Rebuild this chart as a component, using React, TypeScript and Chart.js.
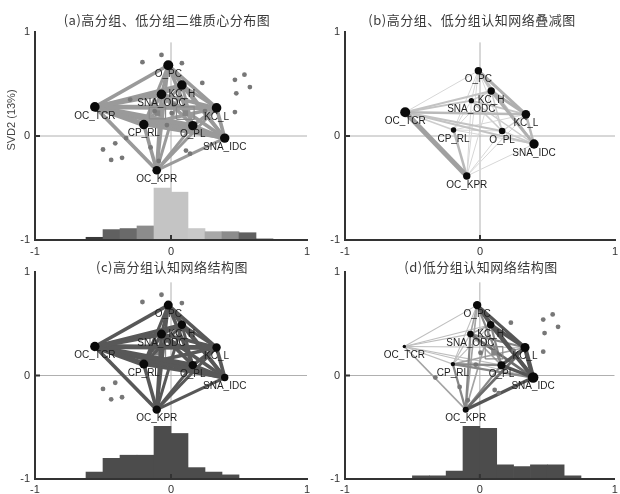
import React, { useEffect, useRef } from 'react';
import { Chart, registerables } from 'chart.js';

Chart.register(...registerables);
Chart.defaults.font.family = '"Liberation Sans", Arial, sans-serif';

// ---- ENA codes (network nodes) ----
const nodeNames = ['O_PC', 'KC_H', 'SNA_ODC', 'OC_TCR', 'KC_L', 'CP_RL', 'O_PL', 'SNA_IDC', 'OC_KPR'];
const nodeX = [-0.02, 0.08, -0.07, -0.56, 0.335, -0.2, 0.16, 0.395, -0.105];
const nodeY = [0.68, 0.49, 0.4, 0.28, 0.27, 0.11, 0.1, -0.02, -0.33];
const nodeXSub = [-0.012, 0.083, -0.064, -0.554, 0.34, -0.196, 0.164, 0.4, -0.098];
const nodeYSub = [0.628, 0.433, 0.34, 0.228, 0.208, 0.058, 0.048, -0.077, -0.385];

// node sizes per network
const nodeSizeAll = [5, 4.8, 4.8, 4.8, 4.8, 4.7, 4.7, 4.7, 4.3];
const nodeSizeSub = [3.7, 3.7, 2.7, 5, 4.3, 2.7, 3.3, 4.7, 3.7];
const nodeSizeHigh = [4.5, 4.2, 4.5, 4.7, 4.2, 4.5, 4.2, 3.7, 4.2];
const nodeSizeLow = [4.2, 3.7, 3.3, 1.7, 4.5, 2.2, 4, 5.3, 3];

// ---- co-occurrence edges (index pairs into nodeNames) ----
const edgeFrom = [0, 0, 0, 0, 0, 0, 0, 0, 1, 1, 1, 1, 1, 1, 1, 2, 2, 2, 2, 2, 2, 3, 3, 3, 3, 3, 4, 4, 4, 4, 5, 5, 5, 6, 6, 7];
const edgeTo = [1, 2, 3, 4, 5, 6, 7, 8, 2, 3, 4, 5, 6, 7, 8, 3, 4, 5, 6, 7, 8, 4, 5, 6, 7, 8, 5, 6, 7, 8, 6, 7, 8, 7, 8, 8];
const highWeights = [3, 2.5, 3, 3, 2.5, 3, 3, 2.5, 2.5, 3, 2.5, 2.5, 2.5, 3, 2.5, 4, 3, 3, 3, 3, 3, 4, 4.5, 4, 4, 3, 3, 3, 3, 2.5, 3.5, 3, 3, 3, 2.5, 2.5];
const lowWeights = [3, 1.5, 1, 3, 1, 2, 3, 1.5, 1.5, 1, 3.5, 1, 2, 3.5, 1.5, 1, 2, 1, 1.5, 2.5, 2, 1, 1, 1, 1, 1.5, 1.5, 3, 4, 2.5, 2, 2, 2, 3, 2, 3];
const subWeights = [2, 1, 1, 3, 1, 1, 2, 1, 1.5, 2, 3, 1, 1.5, 3, 1, 2, 2, 1, 1.5, 1.5, 1, 2.5, 1.5, 2, 2, 5, 1, 1.5, 2.5, 1, 1, 1, 2.5, 1.5, 1, 1];

// ---- individual units (projected points) ----
const highDotsX = [-0.21, -0.07, 0.08, -0.5, -0.41, -0.44, -0.36, -0.3, -0.12, 0.02];
const highDotsY = [0.71, 0.78, 0.7, -0.13, -0.07, -0.23, -0.21, 0.35, 0.24, 0.3];
const lowDotsX = [0.23, 0.47, 0.54, 0.58, 0.48, 0.47, -0.33, -0.15, 0.11, 0.14, -0.03, 0.005, -0.09, 0.25];
const lowDotsY = [0.51, 0.54, 0.59, 0.47, 0.41, 0.23, -0.02, -0.11, -0.14, -0.17, 0.105, 0.22, -0.24, 0.24];

// group means and confidence half-widths: [high, low]
const meanX = [-0.1, 0.105];
const meanY = [0.22, 0.22];
const ciHalfX = [0.06, 0.065];
const ciHalfY = [0.055, 0.06];

// ---- histogram of unit positions along SVD1 ----
const binCenters = [-0.5625, -0.4375, -0.3125, -0.1875, -0.0625, 0.0625, 0.1875, 0.3125, 0.4375, 0.5625, 0.6875];
const histAll = [0.026, 0.1, 0.11, 0.135, 0.5, 0.46, 0.11, 0.08, 0.08, 0.07, 0.01];
const histHigh = [0.067, 0.2, 0.23, 0.23, 0.51, 0.44, 0.11, 0.067, 0.04, 0, 0];
const histLow = [0, 0.03, 0.03, 0.077, 0.51, 0.49, 0.138, 0.119, 0.138, 0.138, 0.03];

const axisTicks = [-1, 0, 1];

// ---- styling ----
const gray = (v: number) => {
  const h = Math.round(v).toString(16).padStart(2, '0');
  return '#' + h + h + h;
};
const histShadesAll = ['#3a3a3a', '#606060', '#6a6a6a', '#8c8c8c', '#c4c4c4', '#c4c4c4', '#c8c8c8', '#a8a8a8', '#8c8c8c', '#606060', '#3a3a3a'];
const FONT = '"Liberation Sans", Arial, sans-serif';

type Spec = {
  left: number; top: number; w: number; h: number;
  padTop: number; padRight: number; xAxisH: number; xTickPad: number;
  title: string; tx: number; ty: number; yTitle?: string;
  nx: number[]; ny: number[]; sizes: number[];
  weights: number[]; edgeColor: (w: number) => string; edgeScale: number;
  dots: { x: number; y: number }[]; dotsOnTop: boolean;
  means: number[];
  hist?: number[]; histColors?: string[] | string;
};

const zip = (xs: number[], ys: number[]) => xs.map((x, i) => ({ x, y: ys[i] }));

function buildDatasets(s: Spec) {
  const ds: any[] = [];
  // reference cross at the origin
  ds.push({ type: 'line', data: [{ x: -1, y: 0 }, { x: 1, y: 0 }], borderColor: '#b0b0b0', borderWidth: 1, pointRadius: 0, order: 30 });
  ds.push({ type: 'line', data: [{ x: 0, y: -1 }, { x: 0, y: 0.9 }], borderColor: '#b0b0b0', borderWidth: 1, pointRadius: 0, order: 30 });

  if (s.hist) {
    const pts: any[] = [];
    const cols: string[] = [];
    binCenters.forEach((c, i) => {
      if (s.hist![i] > 0) {
        pts.push({ x: c, y: [-1, -1 + s.hist![i]] });
        cols.push(Array.isArray(s.histColors) ? s.histColors[i] : (s.histColors as string));
      }
    });
    ds.push({ type: 'bar', data: pts, backgroundColor: cols, borderWidth: 0, barPercentage: 1, categoryPercentage: 1, order: 25 });
  }

  edgeFrom.forEach((a, k) => {
    const b = edgeTo[k];
    const w = s.weights[k];
    ds.push({
      type: 'line',
      data: [{ x: s.nx[a], y: s.ny[a] }, { x: s.nx[b], y: s.ny[b] }],
      borderColor: s.edgeColor(w), borderWidth: w * s.edgeScale, pointRadius: 0,
      borderCapStyle: 'butt', order: 10 - w / 10,
    });
  });

  // unit points and group means sit above the edges, or below them when hidden
  const overlayOrder = s.dotsOnTop ? 2 : 15;
  if (s.dots.length) {
    ds.push({ type: 'scatter', data: s.dots, pointRadius: 2.4, pointBackgroundColor: '#777777', pointBorderWidth: 0, order: overlayOrder });
  }

  s.means.forEach((g) => {
    const x0 = meanX[g] - ciHalfX[g], x1 = meanX[g] + ciHalfX[g];
    const y0 = meanY[g] - ciHalfY[g], y1 = meanY[g] + ciHalfY[g];
    ds.push({ type: 'line', data: [{ x: x0, y: y0 }, { x: x1, y: y0 }, { x: x1, y: y1 }, { x: x0, y: y1 }, { x: x0, y: y0 }], borderColor: '#8a8a8a', borderWidth: 1.2, pointRadius: 0, order: overlayOrder + 2 });
    ds.push({ type: 'scatter', data: [{ x: meanX[g], y: meanY[g] }], pointStyle: 'rect', pointRadius: 4, pointBackgroundColor: '#858585', pointBorderWidth: 0, order: overlayOrder + 1 });
  });

  ds.push({
    type: 'scatter', data: zip(s.nx, s.ny), nodeLabels: nodeNames,
    pointRadius: s.sizes, pointBackgroundColor: '#0a0a0a', pointBorderWidth: 0, order: 0,
  });
  return ds;
}

const panelDecor = {
  id: 'panelDecor',
  afterDatasetsDraw(chart: any) {
    const ctx = chart.ctx;
    const { left, bottom } = chart.chartArea;
    const x0 = chart.scales.x.getPixelForValue(0);
    const y0 = chart.scales.y.getPixelForValue(0);
    ctx.save();
    ctx.strokeStyle = '#333';
    ctx.lineWidth = 2;
    ctx.beginPath();
    ctx.moveTo(x0, bottom);
    ctx.lineTo(x0, bottom - 5);
    ctx.moveTo(left, y0);
    ctx.lineTo(left + 5, y0);
    ctx.stroke();

    ctx.font = '10px ' + FONT;
    ctx.fillStyle = '#1e1e1e';
    ctx.textAlign = 'center';
    ctx.textBaseline = 'middle';
    chart.data.datasets.forEach((d: any, i: number) => {
      if (!d.nodeLabels) return;
      const meta = chart.getDatasetMeta(i);
      meta.data.forEach((pt: any, j: number) => ctx.fillText(d.nodeLabels[j], pt.x, pt.y + 9));
    });
    ctx.restore();
  },
  afterDraw(chart: any, _a: any, opts: any) {
    const ctx = chart.ctx;
    ctx.save();
    ctx.fillStyle = '#3a3a3a';
    ctx.textAlign = 'center';
    ctx.textBaseline = 'middle';
    ctx.font = '13px "Noto Sans CJK SC", sans-serif';
    if ('letterSpacing' in ctx) (ctx as any).letterSpacing = '0.5px';
    ctx.fillText(opts.title, opts.tx, opts.ty);
    if ('letterSpacing' in ctx) (ctx as any).letterSpacing = '0px';
    if (opts.yTitle) {
      ctx.font = '11px ' + FONT;
      ctx.fillStyle = '#444';
      ctx.translate(12, 120);
      ctx.rotate(-Math.PI / 2);
      ctx.fillText(opts.yTitle, 0, 0);
    }
    ctx.restore();
  },
};

function makeConfig(s: Spec): any {
  const tickFont = { size: 11, family: FONT };
  return {
    type: 'scatter',
    data: { datasets: buildDatasets(s) },
    options: {
      responsive: false,
      animation: false,
      events: [],
      devicePixelRatio: 1,
      layout: { padding: { top: s.padTop, right: s.padRight, left: 0, bottom: 0 } },
      plugins: {
        legend: { display: false },
        tooltip: { enabled: false },
        panelDecor: { title: s.title, tx: s.tx, ty: s.ty, yTitle: s.yTitle || '' },
      },
      scales: {
        x: {
          type: 'linear', min: -1, max: 1, offset: false,
          grid: { display: false, drawTicks: false },
          border: { display: true, color: '#333', width: 2, z: 1 },
          afterBuildTicks: (sc: any) => { sc.ticks = axisTicks.map((v) => ({ value: v })); },
          ticks: { padding: s.xTickPad, color: '#333', font: tickFont, maxRotation: 0, autoSkip: false },
          afterFit: (sc: any) => { sc.height = s.xAxisH; sc.paddingLeft = 0; sc.paddingRight = 0; },
        },
        y: {
          type: 'linear', min: -1, max: 1,
          grid: { display: false, drawTicks: false },
          border: { display: true, color: '#333', width: 2, z: 1 },
          afterBuildTicks: (sc: any) => { sc.ticks = axisTicks.map((v) => ({ value: v })); },
          ticks: { padding: 5, color: '#333', font: tickFont },
          afterFit: (sc: any) => { sc.width = 35; sc.paddingTop = 0; sc.paddingBottom = 0; },
        },
      },
    },
    plugins: [panelDecor],
  };
}

const lowShade = (w: number) => gray(Math.max(85, 190 - (w - 1) * 55));
const subShade = (w: number) => gray(Math.max(160, 215 - (w - 1) * 20));

const highDots = zip(highDotsX, highDotsY);
const lowDots = zip(lowDotsX, lowDotsY);

const panels: Spec[] = [
  {
    left: 0, top: 0, w: 314, h: 256, padTop: 32, padRight: 7, xAxisH: 16, xTickPad: 5,
    title: '(a)高分组、低分组二维质心分布图', tx: 167, ty: 20, yTitle: 'SVD2 (13%)',
    nx: nodeX, ny: nodeY, sizes: nodeSizeAll, weights: highWeights, edgeColor: () => '#9a9a9a', edgeScale: 1.2,
    dots: [...highDots, ...lowDots], dotsOnTop: true, means: [0, 1],
    hist: histAll, histColors: histShadesAll,
  },
  {
    left: 310, top: 0, w: 310, h: 256, padTop: 32, padRight: 3, xAxisH: 16, xTickPad: 5,
    title: '(b)高分组、低分组认知网络叠减图', tx: 162, ty: 20,
    nx: nodeXSub, ny: nodeYSub, sizes: nodeSizeSub, weights: subWeights, edgeColor: subShade, edgeScale: 1,
    dots: [], dotsOnTop: true, means: [],
  },
  {
    left: 0, top: 256, w: 314, h: 238, padTop: 16, padRight: 7, xAxisH: 15, xTickPad: 4,
    title: '(c)高分组认知网络结构图', tx: 172, ty: 11,
    nx: nodeX, ny: nodeY, sizes: nodeSizeHigh, weights: highWeights, edgeColor: () => '#585858', edgeScale: 1.2,
    dots: highDots, dotsOnTop: false, means: [0],
    hist: histHigh, histColors: '#4c4c4c',
  },
  {
    left: 310, top: 256, w: 310, h: 238, padTop: 16, padRight: 3, xAxisH: 15, xTickPad: 4,
    title: '(d)低分组认知网络结构图', tx: 171, ty: 11,
    nx: nodeX, ny: nodeY, sizes: nodeSizeLow, weights: lowWeights, edgeColor: lowShade, edgeScale: 1.1,
    dots: lowDots, dotsOnTop: true, means: [1],
    hist: histLow, histColors: '#4c4c4c',
  },
];

function Panel({ spec }: { spec: Spec }) {
  const ref = useRef<HTMLCanvasElement>(null);
  useEffect(() => {
    const chart = new Chart(ref.current as HTMLCanvasElement, makeConfig(spec));
    return () => chart.destroy();
  }, [spec]);
  return (
    <canvas
      ref={ref}
      width={spec.w}
      height={spec.h}
      style={{ position: 'absolute', left: spec.left, top: spec.top, width: spec.w, height: spec.h }}
    />
  );
}

export default function App() {
  return (
    <div style={{ position: 'absolute', left: 0, top: 0, width: 620, height: 494, background: '#fff', overflow: 'hidden' }}>
      {panels.map((p, i) => (
        <Panel key={i} spec={p} />
      ))}
    </div>
  );
}
